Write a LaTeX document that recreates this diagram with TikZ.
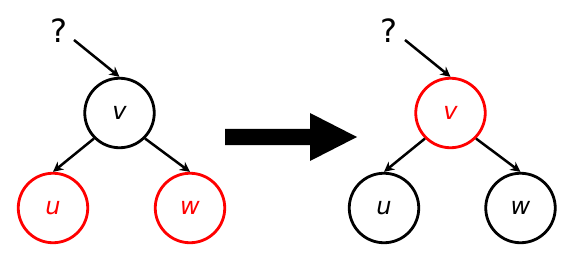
\documentclass[tikz,border=0pt]{standalone}
\usepackage{fontspec}
\setmainfont{DejaVu Sans}
\usetikzlibrary{arrows.meta}
\begin{document}
\begin{tikzpicture}[x=1pt,y=-1pt,
  tnode/.style={circle,draw,line width=2.8pt,minimum size=69.5pt,inner sep=0pt,font=\fontsize{24}{28}\selectfont\itshape},
  rednode/.style={tnode,draw=red,text=red},
  edge/.style={line width=2.5pt,-{Stealth[length=10pt,width=10pt]}},
  qmark/.style={font=\fontsize{32}{36}\selectfont,inner sep=0pt}]
\useasboundingbox (0,0) rectangle (571,262);
% left tree
\node[tnode] (v1) at (119.5,113) {v};
\node[rednode] (u1) at (53,208) {u};
\node[rednode] (w1) at (190,208) {w};
\node[qmark] (q1) at (59,31) {?};
\coordinate (q1s) at (74,40);
\draw[edge] (q1s) -- (v1.north);
\draw[edge] (v1.south west) -- (u1.north);
\draw[edge] (v1.south east) -- (w1.north);
% big arrow
\fill (225,129) -- (310,129) -- (310,113) -- (357,137) -- (310,161) -- (310,145) -- (225,145) -- cycle;
% right tree
\node[rednode] (v2) at (450.5,113) {v};
\node[tnode] (u2) at (384,208) {u};
\node[tnode] (w2) at (520.5,208) {w};
\node[qmark] (q2) at (389,31) {?};
\coordinate (q2s) at (405,40);
\draw[edge] (q2s) -- (v2.north);
\draw[edge] (v2.south west) -- (u2.north);
\draw[edge] (v2.south east) -- (w2.north);
\end{tikzpicture}
\end{document}
